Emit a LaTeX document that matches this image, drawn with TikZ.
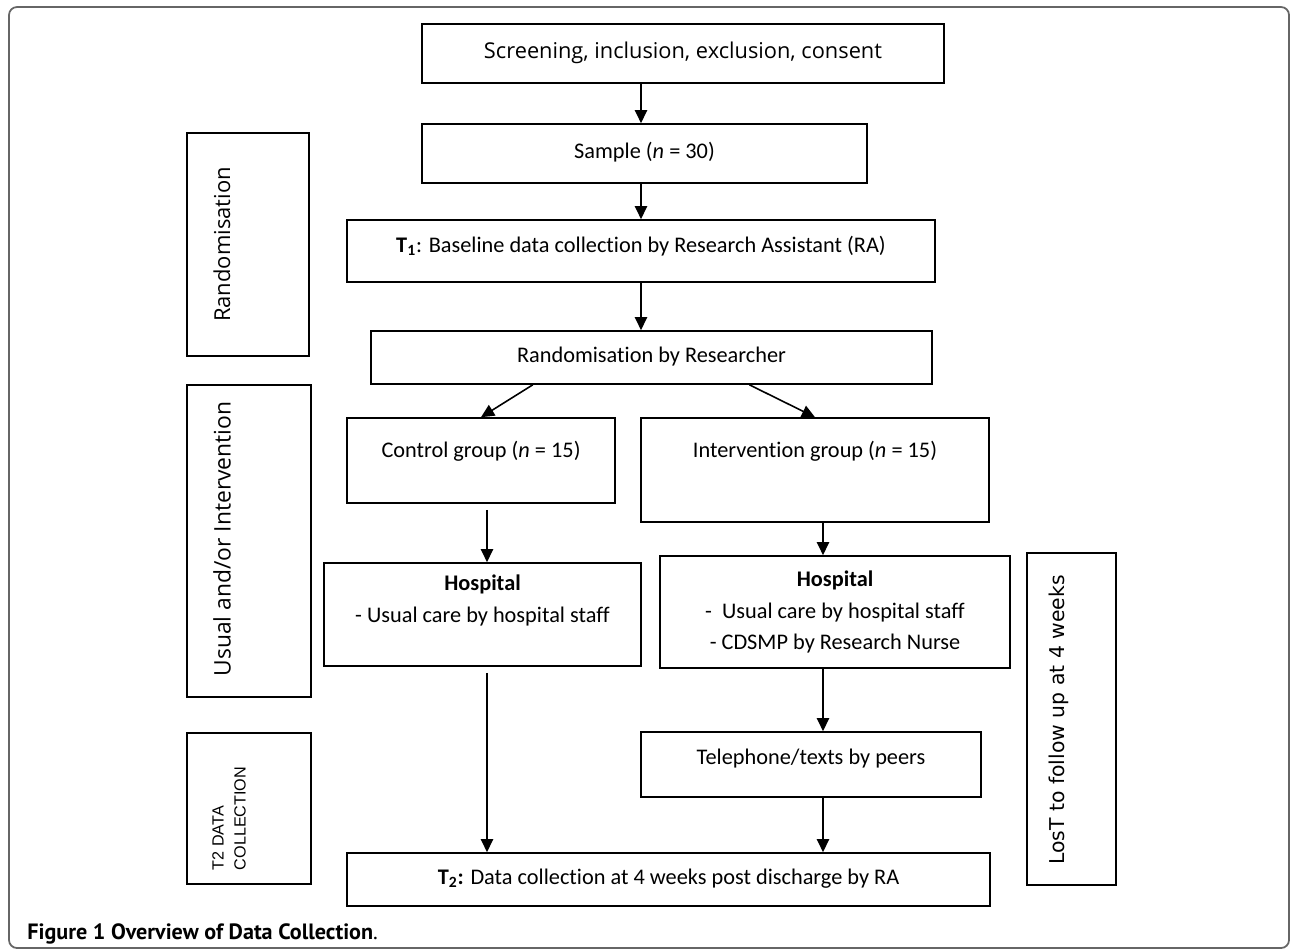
\documentclass[tikz,border=0pt]{standalone}
\usepackage{graphicx,amsmath}
\usepackage{fontspec}
\setmainfont{Carlito}[Ligatures=NoCommon]
\newfontfamily\opensans{Open Sans}
\newfontfamily\dejavu{DejaVu Sans}
\newfontfamily\arial{Liberation Sans}
\newfontfamily\capfont{PT Sans}
\usepackage{tikz}
\usetikzlibrary{calc,arrows.meta}
\newdimen\pxu \pxu=0.02cm
\tikzstyle{stage} = [rectangle, draw, line width=0.9pt, text centered, inner sep=0pt, font=\fontsize{12.7}{17.9}\selectfont]
\tikzstyle{oneline} = [text height=9pt, text depth=3pt]
\tikzstyle{sidebox} = [rectangle, draw, line width=0.9pt, inner sep=0pt]
\tikzstyle{sidetext} = [rotate=90, inner sep=0pt, font=\opensans\fontsize{12.5}{15}\selectfont]
\tikzstyle{flow} = [-{Triangle[length=7.5pt,width=7pt]}, line width=0.9pt]

\begin{document}
\begin{tikzpicture}[x=0.02cm, y=-0.02cm]
            \useasboundingbox (0,0) rectangle (1290,951);
            \draw[black!60, line width=1pt, rounded corners=8\pxu] (9,7) rectangle (1289,948);
            % main column
            \node[stage, oneline, minimum width=522\pxu, minimum height=59\pxu, font=\opensans\fontsize{12.4}{15}\selectfont] (screen) at (683,53.5) {Screening, inclusion, exclusion, consent};
            \node[stage, oneline, minimum width=445\pxu, minimum height=59\pxu] (sample) at (644.5,153.5) {Sample (\textit{n} = 30)};
            \node[stage, oneline, text depth=7.6pt, minimum width=588\pxu, minimum height=62\pxu] (base) at (641,251) {\textbf{T\textsubscript{1}}: Baseline data collection by Research Assistant (RA)};
            \node[stage, oneline, minimum width=561\pxu, minimum height=53\pxu] (random) at (651.5,357.5) {Randomisation by Researcher};
            \node[stage, oneline, text depth=12.7pt, minimum width=268\pxu, minimum height=85\pxu] (control) at (481,460.5) {Control group (\textit{n} = 15)};
            \node[stage, oneline, text depth=23.5pt, minimum width=348\pxu, minimum height=104\pxu] (interv) at (815,470) {Intervention group (\textit{n} = 15)};
            \node[stage, align=center, minimum width=317\pxu, minimum height=103\pxu] (hospc) at (482.5,614.5) {\textbf{Hospital}\\- Usual care by hospital staff\\ \mbox{}};
            \node[stage, align=center, minimum width=350\pxu, minimum height=112\pxu] (hospi) at (835,612) {\textbf{Hospital}\\-~~Usual care by hospital staff\\- CDSMP by Research Nurse};
            \node[stage, oneline, text depth=9.3pt, minimum width=340\pxu, minimum height=65\pxu] (phone) at (811,764.5) {Telephone/texts by peers};
            \node[stage, oneline, minimum width=643\pxu, minimum height=53\pxu] (final) at (668.5,879.5) {\textbf{T\textsubscript{2}:} Data collection at 4 weeks post discharge by RA};
            % side boxes
            \node[sidebox, minimum width=122\pxu, minimum height=223\pxu] (randbox) at (248,244.5) {};
            \node[sidetext] (randtext) at (222,244.5) {Randomisation};
            \node[sidebox, minimum width=124\pxu, minimum height=312\pxu] (carebox) at (249,541) {};
            \node[sidetext, font=\opensans\fontsize{13}{15}\selectfont] (caretext) at (222,539) {Usual and/or Intervention};
            \node[sidebox, minimum width=124\pxu, minimum height=151\pxu] (collbox) at (249,808.5) {};
            \node[sidetext, font=\arial\fontsize{9.2}{12.5}\selectfont, align=left] (colltext) at (229,818.5) {T2 DATA\\COLLECTION};
            \node[sidebox, minimum width=89\pxu, minimum height=332\pxu] (lostbox) at (1071.5,719) {};
            \node[sidetext, font=\dejavu\fontsize{11.6}{14}\selectfont] (losttext) at (1059,720) {LosT to follow up at 4 weeks};
            \node[anchor=base west, inner sep=0pt, font=\capfont\fontsize{12.6}{15}\selectfont] (caption) at (27,939) {\textbf{Figure 1 Overview of Data Collection}.};
            % arrows
            \coordinate (lcol) at (487,0);
            \coordinate (rcol) at (823,0);
            \draw[flow] (base.north |- screen.south) -- (base.north |- sample.north);
            \draw[flow] (base.north |- sample.south) -- (base.north);
            \draw[flow] (base.south) -- (base.south |- random.north);
            \draw[flow] ($(random.south west)!0.289!(random.south east)$) -- (control.north);
            \draw[flow] ($(random.south west)!0.674!(random.south east)$) -- (interv.north);
            \draw[flow] ($(lcol |- control.south)+(0,6)$) -- (lcol |- hospc.north);
            \draw[flow] (rcol |- interv.south) -- (rcol |- hospi.north);
            \draw[flow] ($(lcol |- hospc.south)+(0,6)$) -- (lcol |- final.north);
            \draw[flow] (rcol |- hospi.south) -- (rcol |- phone.north);
            \draw[flow] (rcol |- phone.south) -- (rcol |- final.north);
        \end{tikzpicture}
\end{document}
